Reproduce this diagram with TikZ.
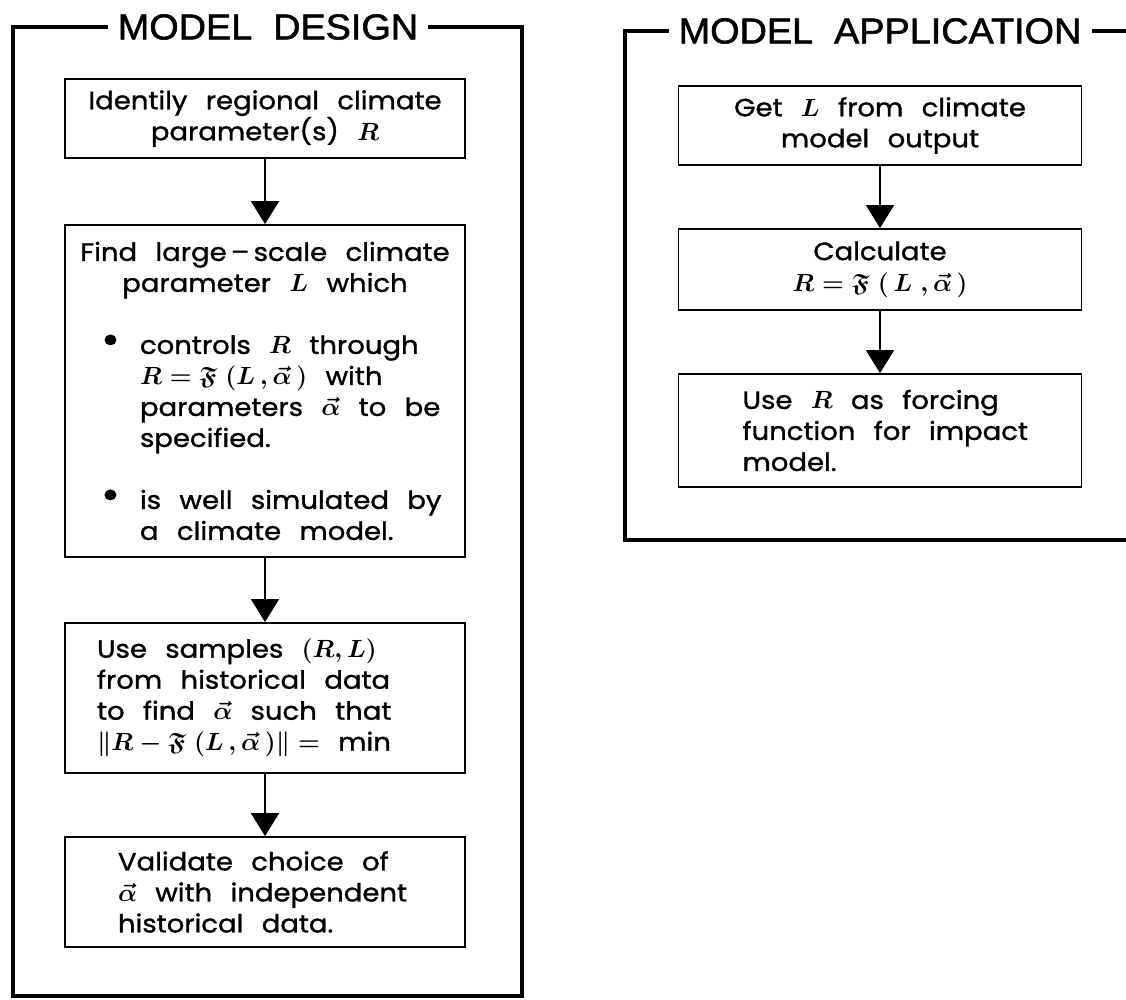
\documentclass[tikz,border=0pt]{standalone}
\usepackage{amsmath,amssymb}
\usepackage{fontspec}
\setmainfont{Poppins}[WordSpace=2.5, FakeStretch=1.1, FakeBold=1.2]
\newfontfamily\titlefont{Liberation Sans}[WordSpace=2, FakeStretch=1.05, FakeBold=1.5]
\usetikzlibrary{arrows.meta}
% bold math for the symbols in the boxes
\newcommand\mth[1]{{\boldmath$#1$}}
\newcommand\frakF{\mathfrak{F}}
\newcommand\bul{\leavevmode\llap{\raisebox{0pt}{\fontsize{42}{42}\selectfont\textbullet}\hspace{20pt}}}
\begin{document}
\begin{tikzpicture}[x=1pt,y=-1pt,
  box/.style={draw, line width=1.8pt, inner xsep=0pt, inner ysep=0pt,
    minimum width=400pt, text width=400pt, align=flush left,
    font=\fontsize{25}{31}\selectfont},
  rbox/.style={box, minimum width=403pt, text width=403pt},
  frame/.style={line width=4pt, line join=miter},
  arr/.style={line width=1.8pt, -{Triangle[width=28pt,length=23pt]}},
  ttl/.style={font=\titlefont\fontsize{36}{40}\selectfont, inner xsep=10pt, inner ysep=0pt}
]
\useasboundingbox (0,0) rectangle (1126,1000);
\clip (0,0) rectangle (1126,1000);
\fill[white] (0,0) rectangle (1126,1000);

% ---- model design ----
\node[ttl] (tD) at (268,27) {MODEL DESIGN};
\draw[frame] (tD.west) -- (13,27) -- (13,996) -- (522,996) -- (522,27) -- (tD.east);

\node[box, align=flush center, minimum height=79pt] (b1) at (265,118.5)
  {Identily regional climate\\ parameter(s) \mth{R}};

\node[box, minimum height=332pt] (b2) at (265,391) {%
  {\centering Find large\,–\,scale climate\\ parameter \mth{L} which\par}
  \vspace{31pt}
  {\leftskip=75pt \bul controls \mth{R} through\\
   \mth{R=\frakF\;(L\,,\vec{\alpha}\,)} with\\
   parameters \mth{\vec{\alpha}} to be\\
   specified.\par}
  \vspace{31pt}
  {\leftskip=75pt \bul is well simulated by\\
   a climate model.\par}};

\node[box, minimum height=150pt] (b3) at (265,698) {%
  {\leftskip=32pt Use samples \mth{(R,L)}\\
   from historical data\\
   to find \mth{\vec{\alpha}} such that\\
   \mth{\|R-\frakF\;(L\,,\vec{\alpha}\,)\|=} min\par}};

\node[box, minimum height=110pt] (b4) at (265,892) {%
  {\leftskip=53pt Validate choice of\\
   \mth{\vec{\alpha}} with independent\\
   historical data.\par}};

\draw[arr] (b1) -- (b2);
\draw[arr] (b2) -- (b3);
\draw[arr] (b3) -- (b4);

% ---- model application ----
\node[ttl] (tA) at (880,31) {MODEL APPLICATION};
\draw[frame] (tA.west) -- (625,31) -- (625,540) -- (1140,540);
\draw[frame] (tA.east) -- (1140,31);

\node[rbox, align=flush center, minimum height=79pt] (r1) at (880,125.5)
  {Get \mth{L} from climate\\ model output};

\node[rbox, align=flush center, minimum height=81pt] (r2) at (880,269.5)
  {Calculate\\ \mth{R=\frakF\;(\,L\;,\vec{\alpha}\,)}};

\node[rbox, minimum height=113pt] (r3) at (880,430.5) {%
  {\leftskip=64pt Use \mth{R} as forcing\\
   function for impact\\
   model.\par}};

\draw[arr] (r1) -- (r2);
\draw[arr] (r2) -- (r3);
\end{tikzpicture}
\end{document}
